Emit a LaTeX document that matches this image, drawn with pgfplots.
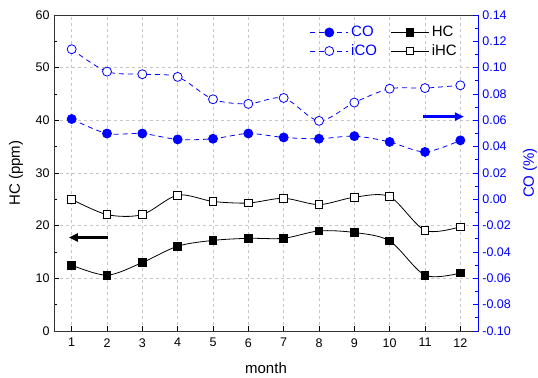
\documentclass[border=0pt]{standalone}
\usepackage{pgfplots}
\pgfplotsset{compat=1.18}
\usepackage{fontspec}
\setmainfont{Liberation Sans}
\usetikzlibrary{arrows.meta}
\begin{document}
\fontsize{12.5bp}{15bp}\selectfont
\begin{tikzpicture}
\begin{axis}[
  name=ax,
  scale only axis, width=424bp, height=316bp,
  xmin=0.5, xmax=12.5, ymin=0, ymax=60,
  xtick={1,...,12}, ytick={0,10,...,60},
  minor y tick num=1,
  xtick pos=bottom, ytick pos=left,
  tick align=inside,
  major tick length=5bp, minor tick length=3bp,
  grid=major,
  major grid style={dashed, gray!45, line width=0.5bp},
  axis line style={line width=0.9bp, black!80},
  every tick/.style={line width=0.8bp, black},
  /pgf/number format/assume math mode=true,
  ticklabel style={font=\fontsize{12.5bp}{15bp}\selectfont},
  xticklabel style={yshift=-3bp},
  xlabel={month}, ylabel={HC (ppm)},
  label style={font=\fontsize{15bp}{18bp}\selectfont},
  xlabel style={at={(axis description cs:0.5,0)}, anchor=center, yshift=-37bp},
  ylabel style={at={(axis description cs:0,0.5)}, anchor=center, rotate=0, yshift=38bp},
]
\addplot[black, line width=0.8bp, smooth, mark=square*, mark size=3.8bp, mark options={solid, fill=black}] coordinates {
(1,12.5) (2,10.6) (3,13.0) (4,16.1) (5,17.2) (6,17.6) (7,17.6) (8,19.0) (9,18.7) (10,17.1) (11,10.6) (12,11.0)};
\addplot[black, line width=0.8bp, smooth, mark=square*, mark size=3.8bp, mark options={solid, fill=white, draw=black}] coordinates {
(1,25.0) (2,22.1) (3,22.1) (4,25.8) (5,24.6) (6,24.3) (7,25.2) (8,24.0) (9,25.4) (10,25.5) (11,19.1) (12,19.8)};
\draw[-{Triangle[length=9bp,width=8bp]}, line width=2.8bp, black] (axis cs:2.03,17.75) -- (axis cs:0.92,17.75);
\end{axis}
\begin{axis}[
  scale only axis, width=424bp, height=316bp,
  xmin=0.5, xmax=12.5, ymin=-0.10, ymax=0.14,
  axis x line=none, axis y line*=right,
  ytick={-0.10,-0.08,...,0.141},
  minor y tick num=1,
  tick align=inside,
  major tick length=5bp, minor tick length=3bp,
  y axis line style={blue, line width=0.9bp, -},
  every tick/.style={line width=0.8bp, blue},
  yticklabel style={blue, font=\fontsize{12.5bp}{15bp}\selectfont, /pgf/number format/.cd, fixed, fixed zerofill, precision=2},
  scaled y ticks=false,
  /pgf/number format/assume math mode=true,
  ylabel={CO (\%)},
  ylabel style={blue, font=\fontsize{15bp}{18bp}\selectfont, at={(axis description cs:1,0.5)}, anchor=center, yshift=-52bp},
  legend columns=2,
  legend style={draw=none, fill=none, inner sep=0pt, at={(0.603,0.968)}, anchor=north west,
    font=\fontsize{15bp}{18bp}\selectfont, row sep=4bp, column sep=0bp,
    nodes={inner xsep=2.5bp, inner ysep=1bp}},
  legend cell align=left,
  /tikz/every even column/.append style={column sep=11bp},
  legend image code/.code={\draw[#1] (0bp,0bp) -- (38bp,0bp); \draw[#1, only marks] plot coordinates {(19bp,0bp)};},
]
\addplot[blue, dash pattern=on 5bp off 4bp, line width=0.8bp, smooth, mark=*, mark size=4.5bp, mark options={solid, fill=blue}] coordinates {
(1,0.061) (2,0.050) (3,0.050) (4,0.0455) (5,0.046) (6,0.050) (7,0.047) (8,0.046) (9,0.048) (10,0.0436) (11,0.036) (12,0.0448)};
\addlegendentry{\textcolor{blue}{CO}}
\addlegendimage{black, line width=0.8bp, mark=square*, mark size=3.8bp, mark options={solid, fill=black}}
\addlegendentry{HC}
\addplot[blue, dash pattern=on 5bp off 4bp, line width=0.8bp, smooth, mark=*, mark size=4.5bp, mark options={solid, fill=white, draw=blue}] coordinates {
(1,0.114) (2,0.097) (3,0.095) (4,0.093) (5,0.076) (6,0.0725) (7,0.077) (8,0.0596) (9,0.0735) (10,0.084) (11,0.0845) (12,0.0866)};
\addlegendentry{\textcolor{blue}{iCO}}
\addlegendimage{black, line width=0.8bp, mark=square*, mark size=3.8bp, mark options={solid, fill=white, draw=black}}
\addlegendentry{iHC}
\draw[-{Triangle[length=9bp,width=8bp]}, line width=2.8bp, blue] (axis cs:10.95,0.0628) -- (axis cs:12.1,0.0628);
\end{axis}
\pgfresetboundingbox
\path[use as bounding box] ([xshift=-54bp,yshift=-47bp]ax.south west) rectangle ([xshift=60bp,yshift=15bp]ax.north east);
\end{tikzpicture}
\end{document}
